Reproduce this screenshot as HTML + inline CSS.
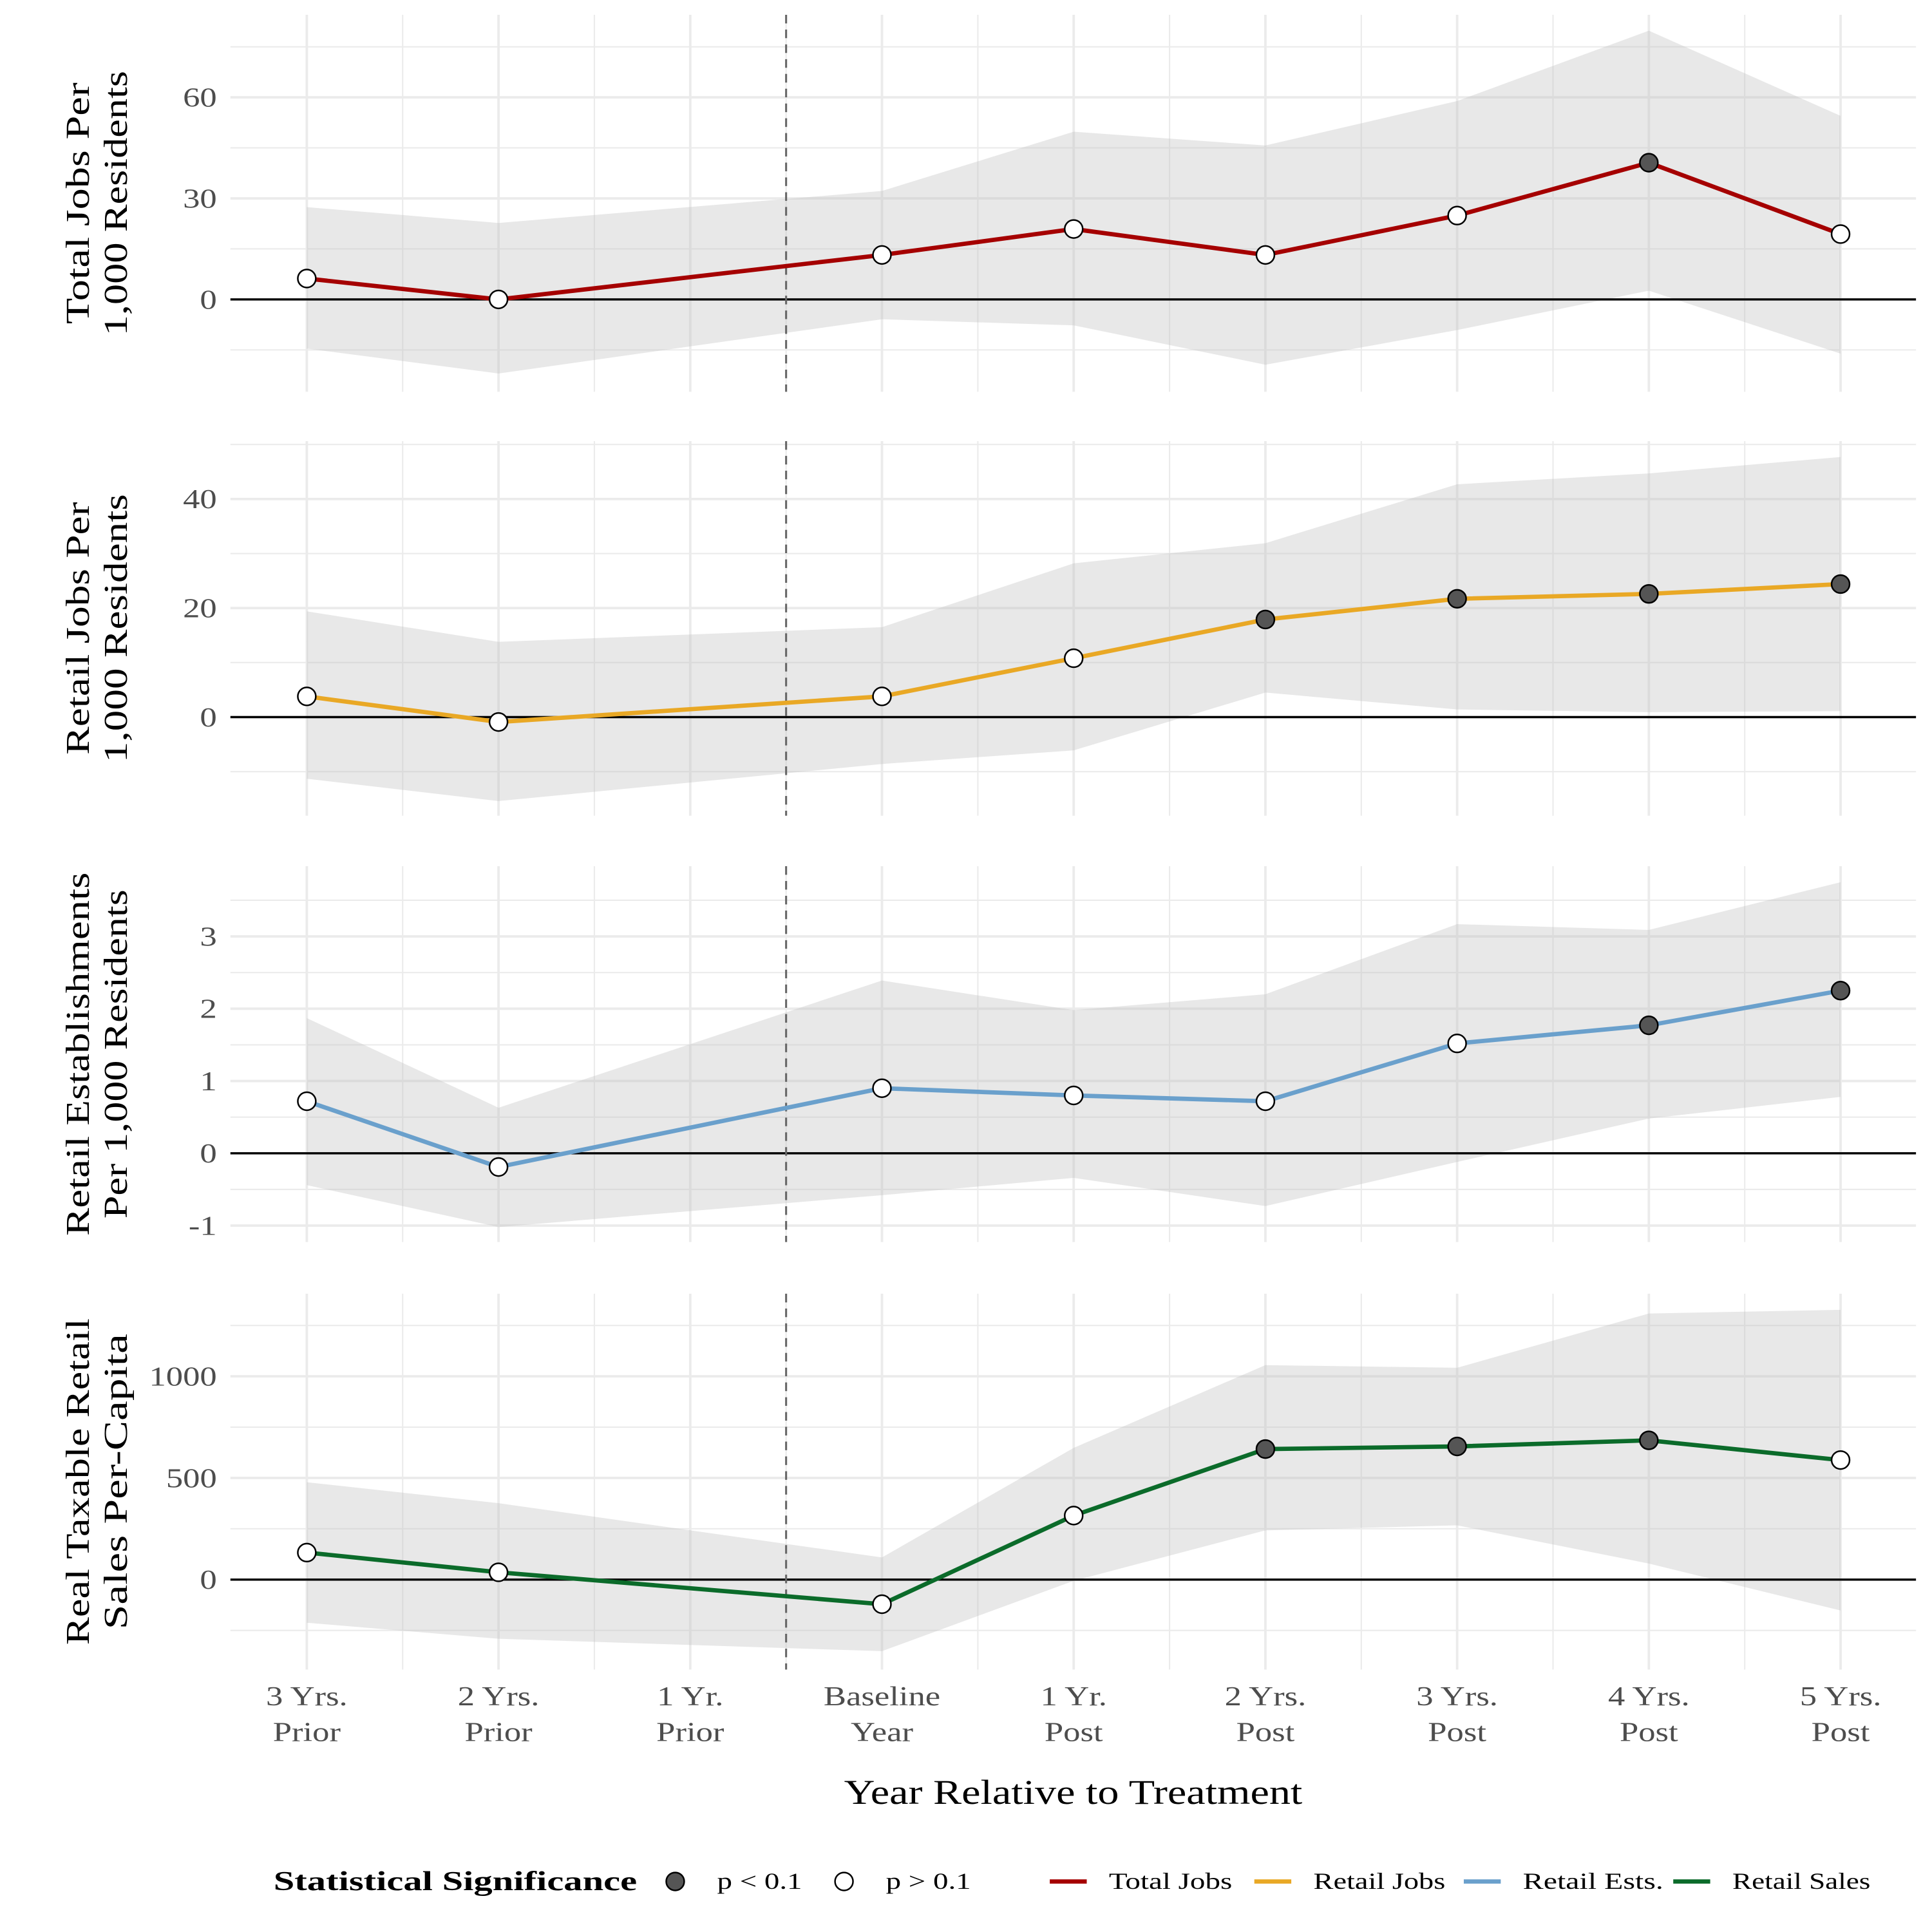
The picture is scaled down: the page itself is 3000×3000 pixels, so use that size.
<!DOCTYPE html>
<html><head><meta charset="utf-8"><style>
html,body{margin:0;padding:0;background:#fff;}
svg{display:block;}
text{font-family:"Liberation Serif",serif;}
</style></head><body>
<svg id="chart" width="3000" height="3000" viewBox="0 0 1568 1568" xmlns="http://www.w3.org/2000/svg"></svg>
<script>
const categories = ["3 Yrs.|Prior","2 Yrs.|Prior","1 Yr.|Prior","Baseline|Year","1 Yr.|Post","2 Yrs.|Post","3 Yrs.|Post","4 Yrs.|Post","5 Yrs.|Post"];
const totalJobsEst = [6.2,0,null,13.2,20.9,13.2,24.9,40.6,19.4];
const totalJobsHi = [27.4,22.7,null,32.2,49.8,45.7,58.9,79.8,54.5];
const totalJobsLo = [-14.6,-22,null,-5.9,-7.7,-19.4,-9.1,2.6,-16.1];
const totalJobsSig = [0,0,null,0,0,0,0,1,0];
const retailJobsEst = [3.8,-0.9,null,3.8,10.8,17.9,21.7,22.6,24.4];
const retailJobsHi = [19.4,13.8,null,16.5,28.2,31.9,42.7,44.7,47.7];
const retailJobsLo = [-11.3,-15.4,null,-8.6,-6.1,4.5,1.4,0.9,1.1];
const retailJobsSig = [0,0,null,0,0,1,1,1,1];
const retailEstsEst = [0.72,-0.19,null,0.9,0.8,0.72,1.52,1.77,2.25];
const retailEstsHi = [1.87,0.63,null,2.39,1.98,2.2,3.17,3.09,3.75];
const retailEstsLo = [-0.44,-1.02,null,-0.58,-0.34,-0.73,-0.12,0.48,0.78];
const retailEstsSig = [0,0,null,0,0,0,0,1,1];
const retailSalesEst = [133,36,null,-121,315,642,655,685,588];
const retailSalesHi = [479,376,null,109,648,1055,1042,1309,1327];
const retailSalesLo = [-212,-291,null,-352,-6,242,267,79,-152];
const retailSalesSig = [0,0,null,0,0,1,1,1,0];
const ticks1 = [0,30,60], ticks2 = [0,20,40], ticks3 = [-1,0,1,2,3], ticks4 = [0,500,1000];

const NS="http://www.w3.org/2000/svg";
const svg=document.getElementById('chart');
function mk(tag,attrs,parent){const e=document.createElementNS(NS,tag);for(const k in attrs)e.setAttribute(k,attrs[k]);(parent||svg).appendChild(e);return e;}
function widen(el,k){try{const w=el.getComputedTextLength();if(w>0){el.setAttribute('textLength',(w*k).toFixed(1));el.setAttribute('lengthAdjust','spacingAndGlyphs');}}catch(e){}}
const X0=249, DX=155.6, PL=187, PR=1555;
function xs(i){return X0+i*DX;}

const panels=[
 {name:'total-jobs',est:totalJobsEst,hi:totalJobsHi,lo:totalJobsLo,sig:totalJobsSig,ticks:ticks1,minor:15,y0:243,ppu:82/30,top:12,bot:318,color:'#a50000',title:['Total Jobs Per','1,000 Residents'],tl:[196,215],dmin:-30,dmax:85},
 {name:'retail-jobs',est:retailJobsEst,hi:retailJobsHi,lo:retailJobsLo,sig:retailJobsSig,ticks:ticks2,minor:10,y0:582,ppu:88.5/20,top:358,bot:662,color:'#e9a825',title:['Retail Jobs Per','1,000 Residents'],tl:[205,218],dmin:-20,dmax:55},
 {name:'retail-ests',est:retailEstsEst,hi:retailEstsHi,lo:retailEstsLo,sig:retailEstsSig,ticks:ticks3,minor:0.5,y0:936,ppu:58.67,top:703,bot:1008,color:'#6aa0cc',title:['Retail Establishments','Per 1,000 Residents'],tl:[295,267],dmin:-1.5,dmax:4},
 {name:'retail-sales',est:retailSalesEst,hi:retailSalesHi,lo:retailSalesLo,sig:retailSalesSig,ticks:ticks4,minor:250,y0:1282,ppu:0.165,top:1050,bot:1355,color:'#0b6b2a',title:['Real Taxable Retail','Sales Per-Capita'],tl:[265,240],dmin:-500,dmax:1500}
];

panels.forEach((p,pi)=>{
  const g=mk('g',{});
  
  
  const ys=v=>p.y0-v*p.ppu;
  for(let v=Math.ceil(p.dmin/p.minor)*p.minor; v<=p.dmax; v+=p.minor){
    const y=ys(v); if(y<p.top||y>p.bot) continue;
    const major=p.ticks.some(t=>Math.abs(t-v)<1e-9);
    mk('line',{x1:PL,x2:PR,y1:y,y2:y,stroke:'#ebebeb','stroke-width':major?2:1.1},g);
  }
  for(let i=0;i<categories.length;i++){
    mk('line',{x1:xs(i),x2:xs(i),y1:p.top,y2:p.bot,stroke:'#ebebeb','stroke-width':2},g);
    if(i<categories.length-1) mk('line',{x1:xs(i)+DX/2,x2:xs(i)+DX/2,y1:p.top,y2:p.bot,stroke:'#ebebeb','stroke-width':1.1},g);
  }
  const idx=[];p.est.forEach((v,i)=>{if(v!==null)idx.push(i);});
  let d='M'+idx.map(i=>xs(i)+','+ys(p.hi[i])).join('L')+'L'+idx.slice().reverse().map(i=>xs(i)+','+ys(p.lo[i])).join('L')+'Z';
  const rib=mk('path',{d:d,fill:'#bdbdbd','fill-opacity':0.35},g);
  
  
  mk('line',{x1:PL,x2:PR,y1:ys(0),y2:ys(0),stroke:'#000','stroke-width':1.8},g);
  mk('line',{x1:xs(2)+DX/2,x2:xs(2)+DX/2,y1:p.top,y2:p.bot,stroke:'#666','stroke-width':1.6,'stroke-dasharray':'7,5'},g);
  const ln=mk('polyline',{points:idx.map(i=>xs(i)+','+ys(p.est[i])).join(' '),fill:'none',stroke:p.color,'stroke-width':3.5,'stroke-linejoin':'round'},g);
  
  
  idx.forEach(i=>{
    const c=mk('circle',{cx:xs(i),cy:ys(p.est[i]),r:7.3,fill:p.sig[i]?'#555':'#fff',stroke:'#000','stroke-width':1.3},g);
    
    
  });
  p.ticks.forEach(t=>{
    const tx=mk('text',{x:176,y:ys(t)+7.5,'text-anchor':'end','font-size':22,fill:'#4d4d4d'},g);
    tx.textContent=t;
    
    
    widen(tx,1.25);
  });
  const cy=(p.top+p.bot)/2;
  const tt=mk('text',{transform:`translate(78,${cy}) rotate(-90)`,'text-anchor':'middle','font-size':27,fill:'#000'},g);
  
  
  const t1=mk('tspan',{x:0,y:-6,textLength:p.tl[0],lengthAdjust:'spacingAndGlyphs'},tt);t1.textContent=p.title[0];
  const t2=mk('tspan',{x:0,y:25,textLength:p.tl[1],lengthAdjust:'spacingAndGlyphs'},tt);t2.textContent=p.title[1];
});

categories.forEach((c,i)=>{
  const parts=c.split('|');
  [[parts[0],1384],[parts[1],1413]].forEach(q=>{
    const tx=mk('text',{x:xs(i),y:q[1],'text-anchor':'middle','font-size':22,fill:'#4d4d4d'});
    tx.textContent=q[0];
    
    
    widen(tx,1.25);
  });
});
const xt=mk('text',{x:871,y:1464,'text-anchor':'middle','font-size':28,fill:'#000'});
xt.textContent='Year Relative to Treatment';


xt.setAttribute('textLength','372');
xt.setAttribute('lengthAdjust','spacingAndGlyphs');

const lg=mk('g',{});


const lt=mk('text',{x:222,y:1534,'font-size':22,'font-weight':'bold',fill:'#000',textLength:295,lengthAdjust:'spacingAndGlyphs'},lg);
lt.textContent='Statistical Significance';


[[548,'#555','p < 0.1',69],[685,'#fff','p > 0.1',69]].forEach(s=>{
  const c=mk('circle',{cx:s[0],cy:1527,r:7.3,fill:s[1],stroke:'#000','stroke-width':1.3},lg);
  
  
  const t=mk('text',{x:s[0]+34,y:1533,'font-size':19,fill:'#000',textLength:s[3],lengthAdjust:'spacingAndGlyphs'},lg);t.textContent=s[2];
  
  
});
[[852,'#a50000','Total Jobs',100],[1018,'#e9a825','Retail Jobs',107],[1188,'#6aa0cc','Retail Ests.',114],[1358,'#0b6b2a','Retail Sales',112]].forEach(s=>{
  const l=mk('line',{x1:s[0],x2:s[0]+30,y1:1527,y2:1527,stroke:s[1],'stroke-width':3.5},lg);
  
  
  const t=mk('text',{x:s[0]+48,y:1533,'font-size':19,fill:'#000',textLength:s[3],lengthAdjust:'spacingAndGlyphs'},lg);t.textContent=s[2];
  
  
});
</script>
</body></html>
